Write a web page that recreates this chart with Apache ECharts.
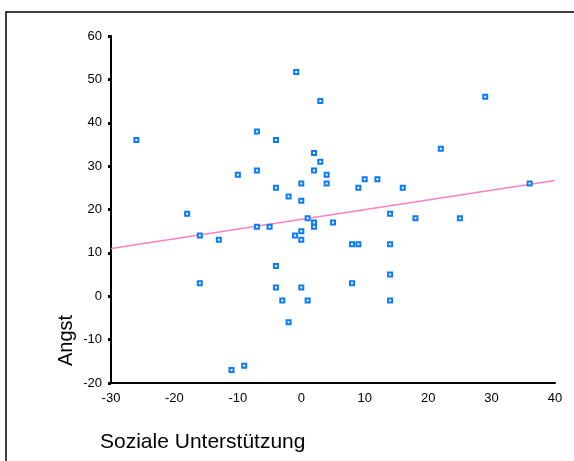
<!DOCTYPE html>
<html>
<head>
<meta charset="utf-8">
<script src="https://cdn.jsdelivr.net/npm/echarts@6/dist/echarts.min.js"></script>
<style>
  html, body { margin: 0; padding: 0; background: #fff; }
  #chart { width: 574px; height: 461px; }
</style>
</head>
<body>
<div id="chart"></div>
<script>
// Soziale Unterstützung (x) gegen Angst (y), one pair per respondent
const supportValues = [
  -26, -0.8, 3, -7, -4, 2, 3, -10, -7, 2,
  -4, 0, -2, 0, -18, 29, 22, 4, 4, 10,
  12, 9, 16, 36, 14, 18, 25, 1, -16, -13,
  -7, -5, -1, 0, 0, 2, 2, -16, -4, -4,
  0, -3, 1, -2, -11, -9, 5, 8, 9, 14,
  14, 8, 14
];
const anxietyValues = [
  36, 51.7, 45, 38, 36, 33, 31, 28, 29, 29,
  25, 26, 23, 22, 19, 46, 34, 28, 26, 27,
  27, 25, 25, 26, 19, 18, 18, 18, 14, 13,
  16, 16, 14, 15, 13, 17, 16, 3, 7, 2,
  2, -1, -1, -6, -17, -16, 17, 12, 12, 12,
  5, 3, -1
];

// Linear fit line, endpoints at the x-axis limits
const fitX = [-30, 40];
const fitY = [11.0, 26.7];

// Axis ranges and tick spacing
const xMin = -30, xMax = 40, xStep = 10;
const yMin = -20, yMax = 60, yStep = 10;

const points = supportValues.map((v, i) => [v, anxietyValues[i]]);
const fitLine = fitX.map((v, i) => [v, fitY[i]]);

const chart = echarts.init(document.getElementById('chart'), null, { renderer: 'canvas' });

const labelFont = { color: '#000', fontFamily: 'Liberation Sans, Arial, sans-serif', fontSize: 13 };

chart.setOption({
  animation: false,
  backgroundColor: '#fff',
  grid: { left: 111, right: 19, top: 36, bottom: 78, containLabel: false },
  xAxis: {
    type: 'value', min: xMin, max: xMax, interval: xStep,
    axisLine: { show: true, onZero: false, lineStyle: { color: '#000', width: 2 } },
    axisTick: { show: false },
    splitLine: { show: false },
    axisLabel: Object.assign({ margin: 9 }, labelFont)
  },
  yAxis: {
    type: 'value', min: yMin, max: yMax, interval: yStep,
    axisLine: { show: true, onZero: false, lineStyle: { color: '#000', width: 2 } },
    axisTick: { show: true, length: 3, lineStyle: { color: '#000', width: 3 } },
    splitLine: { show: false },
    axisLabel: Object.assign({ margin: 9 }, labelFont)
  },
  graphic: [
    {
      type: 'rect', silent: true, z: 0,
      shape: { x: 6, y: 12, width: 700, height: 600 },
      style: { fill: 'none', stroke: '#000', lineWidth: 1.5 }
    },
    {
      type: 'text', silent: true,
      x: 100, y: 432,
      style: { text: 'Soziale Unterstützung', fill: '#000', font: '21px "Liberation Sans", Arial, sans-serif', textVerticalAlign: 'top' }
    },
    {
      type: 'text', silent: true,
      x: 56, y: 366, rotation: Math.PI / 2,
      style: { text: 'Angst', fill: '#000', font: '20px "Liberation Sans", Arial, sans-serif', textVerticalAlign: 'top' }
    }
  ],
  series: [
    {
      type: 'line', data: fitLine, showSymbol: false, symbol: 'none', z: 2,
      lineStyle: { color: '#ff80c0', width: 1.5 }
    },
    {
      type: 'scatter', data: points, symbol: 'rect', symbolSize: 4, z: 3,
      itemStyle: { color: '#ffffff', borderColor: '#0a7cf5', borderWidth: 2, opacity: 1 }
    }
  ]
});
</script>
</body>
</html>
